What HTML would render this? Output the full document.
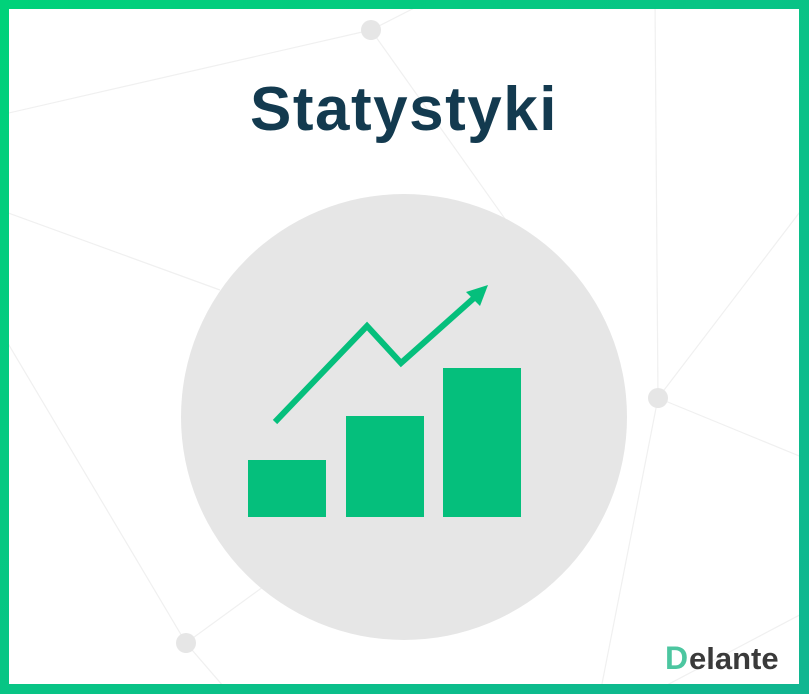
<!DOCTYPE html>
<html><head><meta charset="utf-8"><style>
html,body{margin:0;padding:0}
body{width:809px;height:694px;overflow:hidden;position:relative;background:linear-gradient(135deg,#00d27a,#10b691)}
#inner{position:absolute;left:9px;top:9px;width:790px;height:675px;background:#fff;overflow:hidden}
</style></head><body>
<div id="inner">
<svg width="790" height="675" viewBox="9 9 790 675" style="position:absolute;left:0;top:0">
<g stroke="#f0f0f0" stroke-width="1.2" fill="none">
<line x1="0" y1="115" x2="371" y2="30"/>
<line x1="371" y1="30" x2="430" y2="0"/>
<line x1="371" y1="30" x2="520" y2="240"/>
<line x1="0" y1="210" x2="220" y2="290"/>
<line x1="658" y1="398" x2="809" y2="460"/>
<line x1="658" y1="398" x2="809" y2="200"/>
<line x1="658" y1="398" x2="655" y2="0"/>
<line x1="658" y1="398" x2="600" y2="694"/>
<line x1="186" y1="643" x2="0" y2="330"/>
<line x1="186" y1="643" x2="230" y2="694"/>
<line x1="186" y1="643" x2="300" y2="560"/>
<line x1="650" y1="694" x2="809" y2="610"/>
</g>
<g fill="#e6e6e6">
<circle cx="371" cy="30" r="10"/><circle cx="658" cy="398" r="10"/><circle cx="186" cy="643" r="10"/>
</g>
<circle cx="404" cy="417" r="223" fill="#e6e6e6"/>
<rect x="248" y="460" width="78" height="57" fill="#05bf7c"/>
<rect x="346" y="416" width="78" height="101" fill="#05bf7c"/>
<rect x="443" y="368" width="78" height="149" fill="#05bf7c"/>
<polyline points="275,422 367,326 401,363 474,298" fill="none" stroke="#05bf7c" stroke-width="6"/>
<polygon points="488,285 466,292 480,306" fill="#05bf7c"/>
<text x="404" y="130" text-anchor="middle" font-family="Liberation Sans, sans-serif" font-weight="bold" font-size="62" letter-spacing="1.5" fill="#133a4f">Statystyki</text>
<g>
<text x="665" y="669" font-family="Liberation Sans, sans-serif" font-weight="bold" font-size="32" fill="#4cc6a0">D</text>
<text x="689" y="669" font-family="Liberation Sans, sans-serif" font-weight="bold" font-size="31" fill="#3a3a3a">elante</text>
</g>
</svg>
</div>
</body></html>
